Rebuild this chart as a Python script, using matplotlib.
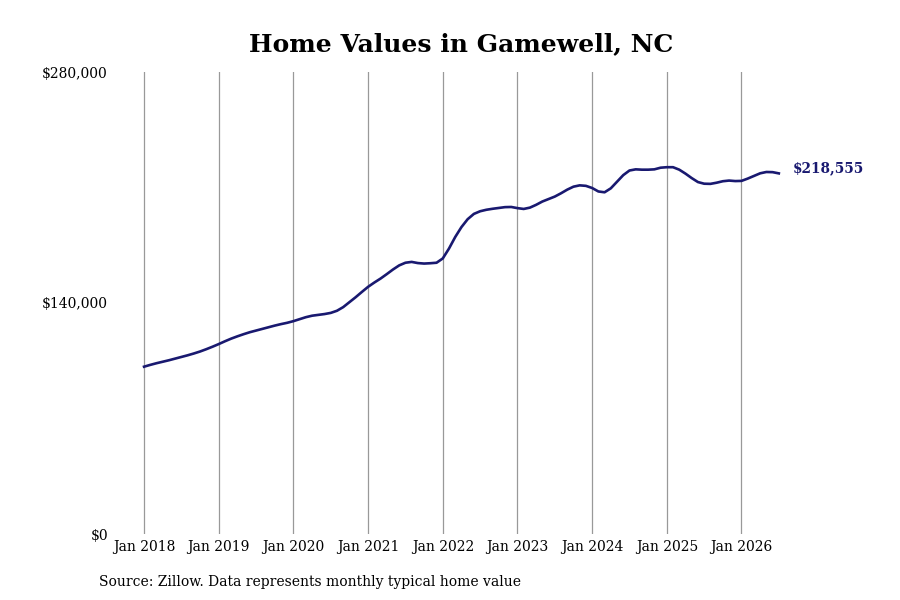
import matplotlib.pyplot as plt

# monthly typical home value, Jan 2018 .. Jul 2026
months = list(range(103))
values = [
    101400, 102500, 103500, 104400, 105300, 106300, 107300, 108300, 109400, 110600, 112000, 113500,
    115100, 116800, 118400, 119800, 121100, 122300, 123300, 124300, 125300, 126300, 127200, 128000,
    129000, 130200, 131400, 132300, 132800, 133300, 134000, 135300, 137500, 140500, 143500, 146700,
    149800, 152400, 154800, 157500, 160300, 162800, 164400, 164900, 164200, 163900, 164100, 164400,
    167000, 173000, 180000, 186000, 190800, 194000, 195600, 196500, 197100, 197600, 198100, 198200,
    197500, 197000, 197800, 199500, 201500, 203000, 204500, 206500, 208700, 210500, 211300, 211000,
    209700, 207600, 207100, 209500, 213500, 217500, 220300, 221000, 220800, 220800, 221000, 222000,
    222300, 222300, 220800, 218400, 215700, 213300, 212300, 212200, 212900, 213800, 214200, 213900,
    214000, 215400, 217000, 218600, 219400, 219300, 218555,
]
tick_pos = [0, 12, 24, 36, 48, 60, 72, 84, 96]
tick_labels = ['Jan 2018', 'Jan 2019', 'Jan 2020', 'Jan 2021', 'Jan 2022',
               'Jan 2023', 'Jan 2024', 'Jan 2025', 'Jan 2026']
y_ticks = [0, 140000, 280000]
y_labels = ['$0', '$140,000', '$280,000']

plt.rcParams['font.family'] = 'DejaVu Serif'
line_color = '#191970'

fig = plt.figure(figsize=(9, 6), dpi=100)
ax = fig.add_axes([110 / 900, 66 / 600, 690 / 900, 462 / 600])

ax.plot(months, values, color=line_color, linewidth=1.9)
ax.set_xlim(-5.47, 105.4)
ax.set_ylim(0, 280000)

ax.set_xticks(tick_pos)
ax.set_xticklabels(tick_labels, fontsize=10)
ax.set_yticks(y_ticks)
ax.set_yticklabels(y_labels, fontsize=10)
ax.tick_params(axis='both', length=0)
ax.tick_params(axis='y', pad=1.5)
ax.tick_params(axis='x', pad=4)
ax.grid(axis='x', color='#999999', linewidth=0.9)
for s in ax.spines.values():
    s.set_visible(False)

ax.annotate('${:,}'.format(values[-1]), xy=(months[-1], values[-1]),
            xytext=(10, 3.6), textcoords='offset points',
            color=line_color, fontsize=9.8, fontweight='bold', va='center', ha='left')

fig.text(461 / 900, 556 / 600, 'Home Values in Gamewell, NC',
         fontsize=18, fontweight='bold', ha='center', va='center')
fig.text(99 / 900, 18 / 600, 'Source: Zillow. Data represents monthly typical home value',
         fontsize=10, ha='left', va='center')

fig.savefig('out.png', dpi=100)
